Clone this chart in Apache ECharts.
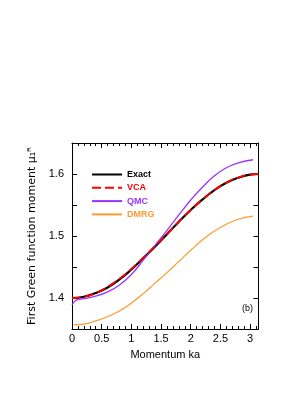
<!DOCTYPE html>
<html><head><meta charset="utf-8">
<script src="https://cdn.jsdelivr.net/npm/echarts@6/dist/echarts.min.js"></script>
<style>html,body{margin:0;padding:0;background:#fff}#c{width:281px;height:398px}</style>
</head><body><div id="c"></div>
<script>
var kExact = [0, 0.2, 0.4, 0.6, 0.8, 1.0, 1.2, 1.4, 1.6, 1.8, 2.0, 2.2, 2.4, 2.6, 2.8, 3.0, 3.1416];
var exactVals = [1.400, 1.402, 1.408, 1.417, 1.430, 1.446, 1.464, 1.483, 1.503, 1.523, 1.542, 1.559, 1.574, 1.586, 1.594, 1.599, 1.600];
var vcaVals = [1.400, 1.402, 1.408, 1.418, 1.431, 1.447, 1.465, 1.484, 1.503, 1.523, 1.542, 1.559, 1.574, 1.586, 1.594, 1.599, 1.600];
var kQmc = [0, 0.08, 0.2, 0.4, 0.6, 0.8, 1.0, 1.2, 1.4, 1.6, 1.8, 2.0, 2.2, 2.4, 2.6, 2.8, 3.05];
var qmcVals = [1.389, 1.397, 1.399, 1.403, 1.410, 1.421, 1.438, 1.461, 1.485, 1.509, 1.534, 1.558, 1.579, 1.597, 1.610, 1.618, 1.623];
var kDmrg = [0.03, 0.2, 0.4, 0.6, 0.8, 1.0, 1.2, 1.4, 1.6, 1.8, 2.0, 2.2, 2.4, 2.6, 2.8, 3.05];
var dmrgVals = [1.357, 1.358, 1.363, 1.370, 1.379, 1.392, 1.407, 1.424, 1.441, 1.459, 1.477, 1.494, 1.508, 1.519, 1.527, 1.532];
var seriesNames = ['Exact', 'VCA', 'QMC', 'DMRG'];
var seriesColors = ['#000000', '#ff0000', '#9933ff', '#ff9933'];
var xMin = 0, xMax = 3.1416, xStep = 0.5;
var yMin = 1.35, yMax = 1.65, yStep = 0.05;
var panelLabel = '(b)';

function pairs(k, v) { return k.map(function (x, i) { return [x, v[i]]; }); }
var font = 'Liberation Sans, Arial, sans-serif';
function xAxis(pos, showLabel) {
  return {
    type: 'value', position: pos, min: xMin, max: xMax, interval: xStep,
    axisLine: { show: true, onZero: false, lineStyle: { color: '#000', width: 1 } },
    axisTick: { show: true, inside: true, length: 5, lineStyle: { color: '#000' } },
    minorTick: { show: true, splitNumber: 5, length: 3, lineStyle: { color: '#000' } },
    splitLine: { show: false },
    axisLabel: {
      show: showLabel, color: '#000', fontFamily: font, fontSize: 11, margin: 4,
      showMaxLabel: false,
      formatter: function (v) { return Math.abs(v / 0.5 - Math.round(v / 0.5)) < 1e-6 ? String(Math.round(v * 10) / 10) : ''; }
    },
    name: showLabel ? 'Momentum ka' : '', nameLocation: 'middle', nameGap: 20,
    nameTextStyle: { color: '#000', fontFamily: font, fontSize: 11 }
  };
}
function yAxis(pos, showLabel) {
  return {
    type: 'value', position: pos, min: yMin, max: yMax, interval: yStep,
    axisLine: { show: true, onZero: false, lineStyle: { color: '#000', width: 1 } },
    axisTick: { show: true, inside: true, length: 5, lineStyle: { color: '#000' } },
    splitLine: { show: false },
    axisLabel: {
      show: showLabel, color: '#000', fontFamily: font, fontSize: 11, margin: 8,
      showMinLabel: false, showMaxLabel: false,
      formatter: function (v) { return Math.abs(v * 10 - Math.round(v * 10)) < 1e-6 ? v.toFixed(1) : ''; }
    },
    name: showLabel ? 'First Green function moment μ₁ᴿ' : '',
    nameLocation: 'middle', nameGap: 34, nameRotate: 90,
    nameTextStyle: { color: '#000', fontFamily: 'DejaVu Sans, Liberation Sans, sans-serif', fontSize: 11 }
  };
}
var chart = echarts.init(document.getElementById('c'), null, { renderer: 'canvas' });
chart.setOption({
  animation: false,
  backgroundColor: '#fff',
  grid: { left: 72, right: 22.5, top: 143, bottom: 69, containLabel: false },
  xAxis: [xAxis('bottom', true), xAxis('top', false)],
  yAxis: [yAxis('left', true), yAxis('right', false)],
  legend: {
    orient: 'vertical', left: 86, top: 165, itemWidth: 30, itemHeight: 8, itemGap: 4.3,
    itemStyle: { opacity: 0 },
    data: seriesNames.map(function (n, i) {
      return { name: n, textStyle: { color: seriesColors[i], fontWeight: 'bold', fontSize: 9, fontFamily: font } };
    })
  },
  graphic: [{
    type: 'text', right: 28, top: 304,
    style: { text: panelLabel, fill: '#000', font: '9px ' + font }
  }],
  series: [
    { name: 'Exact', type: 'line', data: pairs(kExact, exactVals), smooth: true, symbol: 'none', z: 2,
      lineStyle: { color: seriesColors[0], width: 2.2 }, itemStyle: { color: seriesColors[0] } },
    { name: 'DMRG', type: 'line', data: pairs(kDmrg, dmrgVals), smooth: true, symbol: 'none', z: 3,
      lineStyle: { color: seriesColors[3], width: 1.2 }, itemStyle: { color: seriesColors[3] } },
    { name: 'QMC', type: 'line', data: pairs(kQmc, qmcVals), smooth: true, symbol: 'none', z: 3,
      lineStyle: { color: seriesColors[2], width: 1.3 }, itemStyle: { color: seriesColors[2] } },
    { name: 'VCA', type: 'line', data: pairs(kExact, vcaVals), smooth: true, symbol: 'none', z: 4,
      lineStyle: { color: seriesColors[1], width: 1.8, type: [9, 4] }, itemStyle: { color: seriesColors[1] } }
  ]
});
</script></body></html>
